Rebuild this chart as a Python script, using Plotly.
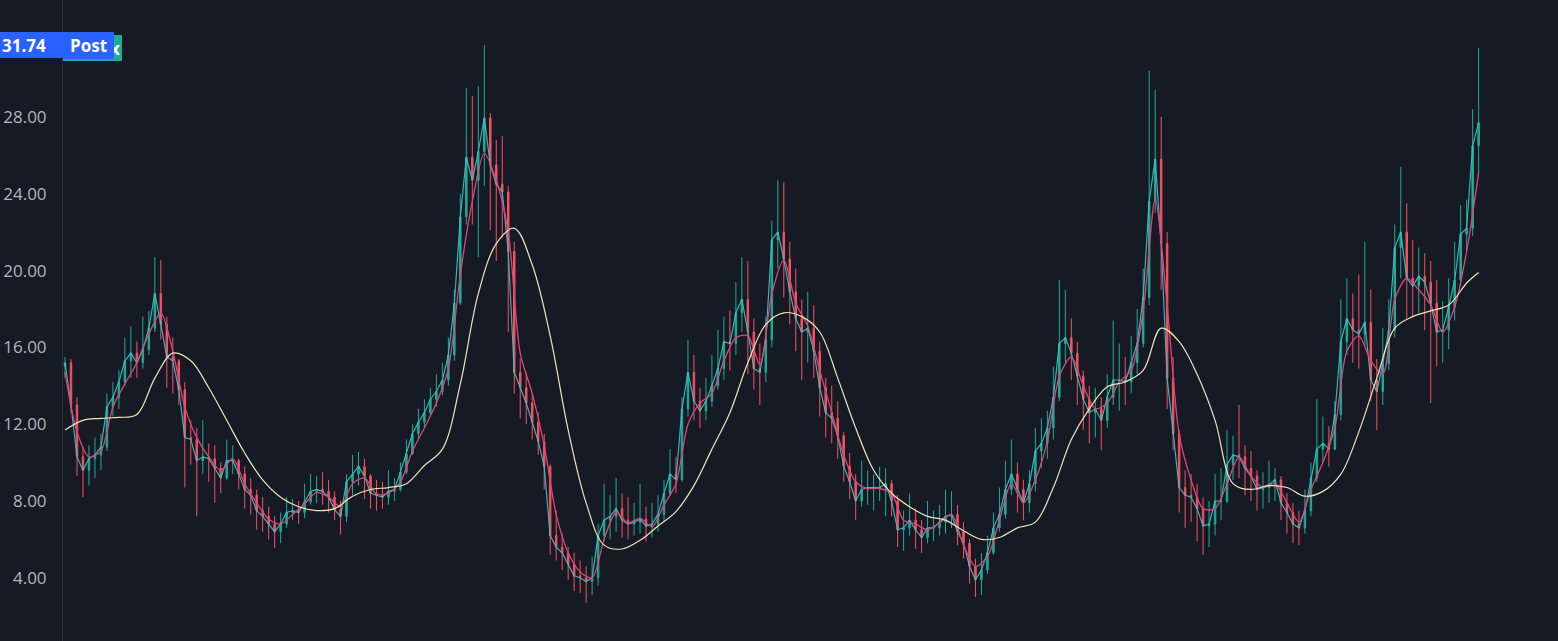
import plotly.graph_objects as go

# ---------------- data ----------------
close = [15.2, 13.0, 10.3, 9.6, 10.2, 10.4, 10.8, 12.9, 13.4, 14.2,
         15.3, 15.7, 15.2, 15.9, 17.0, 18.8, 17.2, 15.5, 15.3, 13.8,
         11.3, 11.2, 10.1, 10.3, 10.2, 9.7, 9.2, 10.1, 10.1, 9.4,
         8.6, 8.3, 7.5, 7.2, 6.8, 6.4, 6.8, 7.4, 7.5, 7.4,
         7.95, 8.5, 8.6, 8.5, 8.2, 7.55, 7.2, 9.0, 9.4, 9.8,
         9.3, 8.4, 8.3, 8.2, 8.5, 8.6, 9.5, 10.45, 11.5, 12.1,
         12.6, 13.3, 13.7, 14.3, 15.6, 18.3, 22.8, 25.9, 24.7, 26.2,
         27.95, 25.5, 24.5, 24.1, 21.0, 14.7, 13.9, 13.1, 12.1, 11.1,
         9.8, 6.2, 5.6, 5.3, 4.7, 4.1, 4.0, 3.8, 4.0, 6.2,
         7.0, 7.2, 7.6, 7.0, 6.8, 6.9, 7.05, 6.7, 6.8, 7.3,
         8.4, 9.4, 9.1, 12.8, 14.7, 13.2, 12.7, 13.2, 14.0, 14.9,
         16.3, 16.2, 17.8, 18.5, 16.8, 14.9, 14.7, 16.4, 21.6, 22.0,
         20.6, 18.9, 17.5, 16.8, 17.0, 15.8, 13.9, 12.6, 12.3, 11.4,
         9.8, 9.0, 8.0, 8.6, 8.7, 8.7, 8.7, 8.9, 8.0, 6.5,
         6.6, 7.0, 6.5, 6.1, 6.6, 6.6, 6.9, 7.2, 7.3, 6.4,
         5.8, 4.6, 3.9, 4.4, 5.3, 6.6, 7.3, 8.6, 9.4, 8.6,
         7.9, 8.9, 10.6, 11.0, 11.8, 13.4, 16.2, 16.5, 15.7, 14.5,
         13.3, 12.6, 12.8, 12.2, 13.4, 14.3, 14.3, 14.2, 15.2, 16.2,
         18.6, 23.6, 25.8, 21.4, 14.4, 11.5, 8.7, 8.3, 8.2, 7.6,
         6.7, 6.8, 8.0, 8.0, 9.9, 10.4, 10.3, 9.7, 9.3, 8.6,
         8.7, 8.85, 9.1, 7.9, 7.4, 6.8, 6.6, 7.5, 9.2, 10.7,
         11.0, 10.7, 12.5, 16.3, 17.5, 16.9, 16.7, 17.3, 14.3, 13.7,
         15.15, 16.9, 21.2, 22.0, 19.6, 19.2, 19.7, 19.4, 18.3, 16.8,
         16.9, 18.1, 19.5, 21.9, 22.2, 26.5, 27.7]

high = [15.5, 15.4, 13.4, 10.8, 10.9, 11.3, 11.5, 13.6, 14.2, 14.8,
        16.5, 17.1, 16.3, 17.6, 17.9, 20.7, 20.55, 17.6, 16.5, 15.4,
        14.2, 12.2, 11.8, 12.2, 11.0, 10.9, 10.0, 11.2, 10.9, 10.2,
        9.8, 9.2, 8.6, 8.2, 7.7, 7.2, 7.4, 8.2, 8.1, 8.0,
        8.9, 9.4, 9.3, 9.5, 9.1, 8.5, 8.0, 9.4, 10.4, 10.55,
        10.2, 9.4, 9.1, 9.0, 9.6, 9.2, 10.0, 11.2, 12.0, 12.8,
        13.3, 13.9, 14.6, 15.2, 16.5, 19.0, 24.0, 29.5, 29.1, 29.6,
        31.74, 28.2, 26.8, 27.0, 24.4, 21.5, 15.4, 14.7, 13.6, 12.6,
        11.5, 9.9, 7.5, 6.3, 5.6, 5.3, 4.9, 4.6, 5.1, 6.8,
        8.9, 8.3, 9.2, 8.4, 8.2, 7.9, 8.9, 7.7, 7.9, 8.3,
        9.1, 10.7, 10.3, 13.4, 16.4, 15.6, 13.9, 14.4, 15.6, 16.9,
        17.6, 17.9, 19.4, 20.7, 20.5, 17.5, 16.2, 17.6, 22.6, 24.7,
        24.6, 21.5, 20.1, 18.5, 18.9, 18.2, 16.3, 14.4, 14.0, 13.2,
        11.6, 10.5, 9.4, 10.1, 9.6, 9.4, 9.8, 9.7, 9.1, 8.3,
        7.5, 8.4, 7.6, 7.0, 8.0, 7.5, 7.8, 8.6, 8.5, 7.8,
        6.9, 6.0, 5.0, 5.3, 6.2, 7.4, 8.7, 10.1, 11.2, 10.0,
        9.1, 9.6, 11.8, 12.3, 12.7, 15.0, 19.5, 19.0, 17.5, 16.3,
        14.8, 14.0, 13.9, 13.4, 14.6, 17.4, 16.2, 15.5, 16.6, 18.0,
        20.1, 30.4, 29.4, 28.0, 22.0, 15.5, 11.7, 9.6, 9.4, 8.9,
        8.2, 8.0, 9.4, 9.7, 11.7, 11.4, 13.0, 10.9, 10.6, 9.6,
        9.5, 10.1, 9.7, 9.3, 8.4, 7.9, 7.5, 8.6, 10.0, 13.3,
        12.4, 11.9, 13.2, 18.5, 19.6, 18.8, 19.8, 21.5, 19.0, 15.4,
        17.0, 18.5, 22.4, 25.4, 23.5, 21.6, 21.2, 20.9, 20.5, 19.5,
        18.4, 19.6, 21.5, 23.4, 23.7, 28.4, 31.6]

low = [14.4, 12.6, 9.3, 8.2, 8.8, 9.2, 9.6, 10.6, 12.4, 12.8,
       14.0, 14.4, 14.4, 14.9, 15.6, 16.8, 16.4, 13.9, 13.6, 13.0,
       8.7, 9.9, 7.2, 9.4, 9.0, 7.9, 8.4, 9.1, 9.4, 8.6,
       7.6, 7.3, 6.5, 6.4, 6.0, 5.55, 5.8, 6.6, 7.0, 6.8,
       7.1, 7.8, 7.9, 7.8, 7.4, 7.0, 6.25, 6.9, 8.3, 8.8,
       8.1, 7.6, 7.5, 7.6, 7.8, 8.0, 8.5, 9.4, 10.4, 11.2,
       11.8, 12.4, 12.9, 13.5, 14.0, 15.3, 18.2, 22.4, 22.4, 20.7,
       24.4, 22.1, 20.5, 21.7, 16.8, 13.6, 12.3, 12.0, 11.2, 10.4,
       8.6, 5.2, 4.9, 4.4, 3.9, 3.3, 3.2, 2.7, 3.1, 3.6,
       5.9, 6.0, 6.4, 6.1, 6.0, 6.2, 6.3, 5.9, 6.1, 6.4,
       6.9, 8.3, 8.4, 9.0, 12.4, 12.2, 11.8, 12.2, 12.9, 13.8,
       14.3, 14.8, 15.6, 16.8, 14.6, 13.8, 13.0, 14.2, 16.0, 20.1,
       18.6, 17.2, 15.8, 14.3, 15.2, 14.4, 12.4, 11.3, 11.0, 10.2,
       9.0, 8.1, 7.0, 7.7, 7.8, 7.5, 8.0, 7.2, 7.2, 5.6,
       5.4, 6.2, 5.5, 5.3, 5.8, 5.9, 6.2, 6.3, 6.6, 5.7,
       5.0, 3.7, 3.0, 3.1, 4.2, 5.2, 6.4, 7.1, 8.3, 7.4,
       7.0, 7.4, 8.5, 9.7, 10.2, 11.2, 13.2, 15.2, 14.3, 13.0,
       11.7, 11.0, 11.3, 10.65, 11.8, 13.0, 12.7, 13.0, 13.6, 14.6,
       16.0, 18.2, 23.0, 19.0, 12.8, 10.65, 7.4, 6.6, 6.9, 5.9,
       5.2, 5.6, 6.2, 7.0, 7.9, 9.1, 9.2, 8.3, 8.0, 7.5,
       7.6, 7.9, 8.0, 7.0, 6.3, 5.8, 5.7, 6.3, 7.2, 9.0,
       10.0, 9.8, 10.65, 12.2, 15.6, 15.2, 14.9, 16.1, 13.2, 11.7,
       13.0, 14.8, 16.5, 19.6, 17.5, 17.6, 17.8, 16.9, 13.1, 15.0,
       15.2, 15.9, 17.4, 19.2, 21.0, 21.8, 25.0]

first_open = 15.0
open_ = [first_open] + close[:-1]
bar_index = list(range(len(close)))

# fast (pink) moving average, read every 2 bars
fast_ma_index = list(range(0, 237, 2))
fast_ma = [14.7, 11.6, 10.3, 10.6, 12.9, 14.1, 15.2, 16.7, 17.8, 15.8,
           12.9, 11.3, 10.3, 9.6, 10.2, 8.9, 7.9, 7.05, 6.8, 7.3,
           7.85, 8.45, 8.2, 7.7, 8.9, 9.2, 8.35, 8.4, 9.0, 10.6,
           11.8, 13.1, 14.9, 19.8, 23.6, 26.1, 24.7, 22.0, 15.7, 13.6,
           10.9, 7.3, 5.3, 4.3, 4.0, 6.0, 7.4, 6.85, 7.1, 6.65,
           7.8, 8.9, 12.0, 13.1, 13.6, 15.3, 16.5, 16.6, 15.1, 18.8,
           20.55, 18.3, 17.1, 14.8, 12.6, 10.4, 9.0, 8.65, 8.65, 8.4,
           7.0, 6.8, 6.5, 6.85, 7.3, 5.7, 4.6, 5.1, 7.0, 8.9,
           7.9, 9.1, 11.1, 14.5, 15.5, 14.0, 12.8, 13.1, 14.2, 14.8,
           17.9, 23.7, 18.2, 11.5, 9.1, 7.6, 7.6, 8.9, 10.3, 9.3,
           8.7, 8.9, 7.9, 6.9, 8.6, 10.0, 11.8, 15.8, 16.6, 15.3,
           14.6, 18.5, 19.6, 19.0, 18.2, 16.8, 18.1, 21.0, 25.1]

# slow (cream) moving average, read every 3 bars + last bar
slow_ma_index = list(range(0, 235, 3)) + [236]
slow_ma = [11.7, 12.2, 12.3, 12.35, 12.5, 14.4, 15.7, 15.3, 13.9, 12.2,
           10.5, 9.1, 8.2, 7.7, 7.5, 7.6, 8.25, 8.6, 8.7, 8.9,
           9.85, 10.7, 14.1, 18.8, 21.4, 22.2, 20.3, 16.6, 11.7, 7.9,
           5.7, 5.5, 5.95, 6.7, 7.45, 8.8, 10.7, 12.6, 15.2, 17.2,
           17.8, 17.6, 16.8, 14.4, 11.8, 9.6, 8.4, 7.7, 7.2, 7.0,
           6.45, 6.0, 6.1, 6.6, 6.9, 8.7, 11.2, 12.8, 13.95, 14.2,
           14.8, 17.0, 16.3, 14.6, 12.2, 8.9, 8.6, 8.8, 8.7, 8.25,
           8.5, 9.4, 11.6, 14.4, 17.0, 17.6, 17.9, 18.2, 19.35, 19.9]

y_ticks = [4, 8, 12, 16, 20, 24, 28]
last_price = 31.74
last_price_label = "31.74"
session_label = "Post"

# ---------------- styling ----------------
BG = "#161a25"
UP = "#22ab94"
DOWN = "#f7525f"
CLOSE_LINE = "#3cc3cc"
FAST_COLOR = "#df4479"
SLOW_COLOR = "#f0e4b4"
TEXT = "#b2b5be"
FONT = "Open Sans"

fig = go.Figure()

fig.add_trace(go.Candlestick(
    x=bar_index, open=open_, high=high, low=low, close=close,
    increasing=dict(line=dict(color=UP, width=1), fillcolor=UP),
    decreasing=dict(line=dict(color=DOWN, width=1), fillcolor=DOWN),
    whiskerwidth=0, showlegend=False, hoverinfo="skip",
))

fig.add_trace(go.Scatter(
    x=bar_index, y=close, mode="lines",
    line=dict(color=CLOSE_LINE, width=1.2), opacity=0.9,
    showlegend=False, hoverinfo="skip",
))

fig.add_trace(go.Scatter(
    x=fast_ma_index, y=fast_ma, mode="lines",
    line=dict(color=FAST_COLOR, width=1.3, shape="spline", smoothing=0.8),
    showlegend=False, hoverinfo="skip",
))

fig.add_trace(go.Scatter(
    x=slow_ma_index, y=slow_ma, mode="lines",
    line=dict(color=SLOW_COLOR, width=1.2, shape="spline", smoothing=1.0),
    showlegend=False, hoverinfo="skip",
))

# price label on the y axis and session labels
fig.add_annotation(
    xref="paper", yref="y", x=0, y=last_price, xanchor="right", yanchor="middle",
    text=f"<b>{last_price_label}</b>", showarrow=False,
    font=dict(color="white", size=17, family=FONT),
    bgcolor="#2962ff", borderwidth=0, width=59, height=22, align="left", borderpad=2,
)
fig.add_annotation(
    xref="paper", yref="y", x=0, y=last_price - 0.16, xanchor="left", yanchor="middle",
    text="<b>x</b>", showarrow=False,
    font=dict(color="white", size=17, family=FONT),
    bgcolor="#22ab94", borderwidth=0, width=55, height=22, align="right", borderpad=2,
)
fig.add_annotation(
    xref="paper", yref="y", x=0, y=last_price, xanchor="left", yanchor="middle",
    text=f"<b>{session_label}</b>", showarrow=False,
    font=dict(color="white", size=17, family=FONT),
    bgcolor="#2962ff", borderwidth=0, width=47, height=23, align="center", borderpad=2,
)

fig.update_layout(
    width=1558, height=641,
    paper_bgcolor=BG, plot_bgcolor=BG,
    margin=dict(l=63, r=0, t=0, b=0),
    boxgap=0.65,
    xaxis=dict(range=[-0.334, 249.25], showgrid=False, zeroline=False,
               showticklabels=False, rangeslider=dict(visible=False),
               showline=False),
    yaxis=dict(range=[0.708, 34.09], side="left", tickvals=y_ticks,
               tickformat=".2f", showgrid=False, zeroline=False,
               showline=True, linecolor="#2a2e39", linewidth=1,
               ticks="", ticklabelstandoff=12,
               tickfont=dict(color=TEXT, size=17, family=FONT)),
    font=dict(family=FONT, color=TEXT),
)

fig.write_html(
    "out.html",
    config={"displayModeBar": False},
    post_script="document.body.style.margin='0';document.body.style.background='#161a25';",
)
